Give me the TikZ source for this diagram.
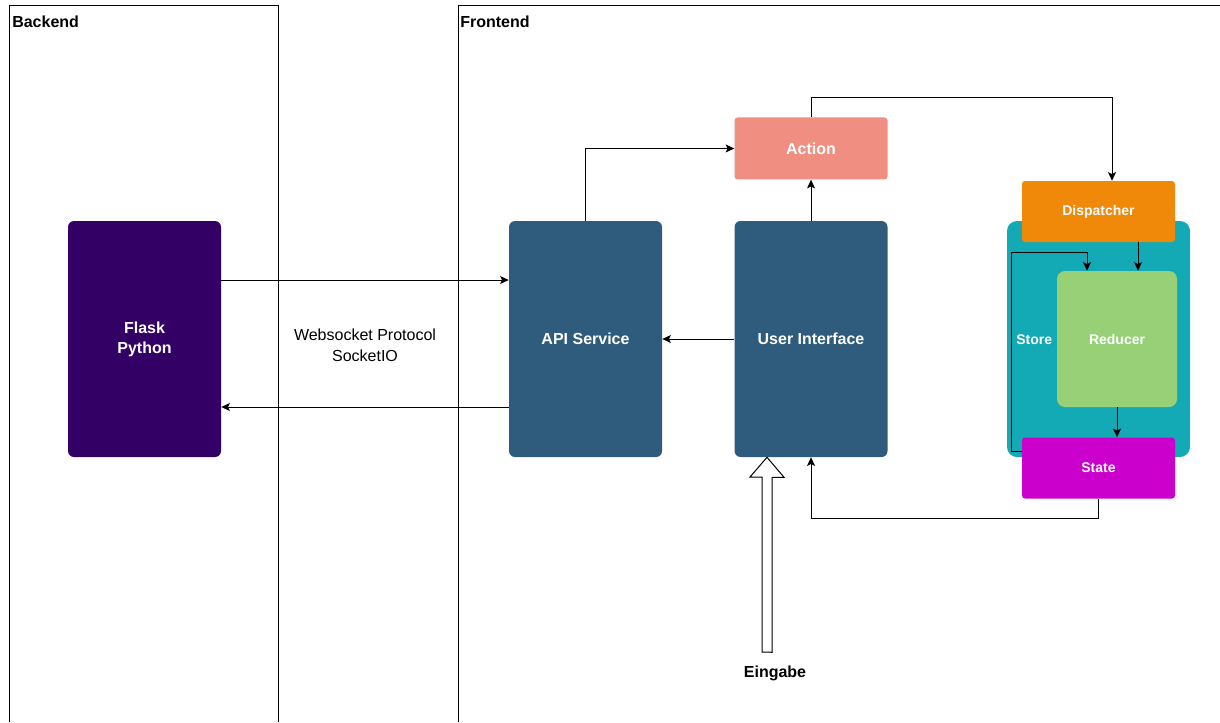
\documentclass[tikz,border=0pt]{standalone}
\usepackage{fontspec}
\setmainfont{Liberation Sans}
\usepackage{xcolor}
\definecolor{colorFlask}{HTML}{330066}
\definecolor{colorService}{HTML}{2F5B7C}
\definecolor{colorAction}{HTML}{F08E81}
\definecolor{colorDispatcher}{HTML}{F0880A}
\definecolor{colorStore}{HTML}{13AAB5}
\definecolor{colorReducer}{HTML}{97D077}
\definecolor{colorState}{HTML}{CC00CC}
\usetikzlibrary{arrows.meta, positioning}
\tikzset{
  block/.style={rounded corners=4.5pt, text=white, align=center, inner sep=0pt,
    font=\bfseries\fontsize{12}{15}\selectfont},
  smallblock/.style={block, rounded corners=2.25pt, font=\bfseries\fontsize{10.5}{12}\selectfont},
  panel/.style={line width=0.75pt},
  flow/.style={->, line width=0.75pt},
}

\begin{document}
\begin{tikzpicture}[x=0.75pt, y=-0.75pt, >={Stealth[length=6.5pt, width=6pt, inset=1.5pt]}]
\useasboundingbox (0,0) rectangle (1220,722);
% panels
\draw[panel] (9,722) |- (278,5) -- (278,722);
\draw[panel] (458,722) |- (1220,5);
\node[anchor=west, inner sep=0pt, font=\bfseries\fontsize{12}{14}\selectfont] (backend) at (12,22) {Backend};
\node[anchor=west, inner sep=0pt, font=\bfseries\fontsize{12}{14}\selectfont] (frontend) at (460,22) {Frontend};
% main blocks
\node[block, fill=colorFlask, minimum width=114.75pt, minimum height=177pt] (flask) at (144.5,339) {Flask\\Python};
\node[block, fill=colorService, minimum width=114.75pt, minimum height=177pt] (api) at (585.5,339) {API Service};
\node[block, fill=colorService, minimum width=114.75pt, minimum height=177pt, right=54pt of api] (ui) {User Interface};
\node[block, rounded corners=2.25pt, fill=colorAction, minimum width=114.75pt, minimum height=46.5pt, above=30.75pt of ui] (action) {Action};
% store
\node[block, rounded corners=7.5pt, fill=colorStore, minimum width=137.25pt, minimum height=177pt] (store) at (1098.5,339) {};
\node[smallblock, rounded corners=6pt, fill=colorReducer, minimum width=90pt, minimum height=102pt] (reducer) at (1117,339) {Reducer};
\node[smallblock, anchor=west, inner sep=0pt] (storelabel) at (1016,340) {Store};
\node[smallblock, fill=colorDispatcher, minimum width=114.75pt, minimum height=45.75pt] (dispatcher) at (1098.5,211.5) {Dispatcher};
\node[smallblock, fill=colorState, minimum width=114.75pt, minimum height=45.75pt] (state) at (1098.5,468) {State};
% websocket
\node[align=center, font=\fontsize{12}{15.75}\selectfont] (socket) at (365,345) {Websocket Protocol\\SocketIO};
\draw[flow] ([yshift=44.25pt]flask.east) -- ([yshift=44.25pt]api.west);
\draw[flow] ([yshift=-51pt]api.west) -- ([yshift=-51pt]flask.east);
% frontend flow
\draw[flow] (ui.west) -- (api.east);
\draw[flow] (ui.north) -- (action.south);
\draw[flow] (api.north) |- (action.west);
\draw[flow] (action.north) -- ++(0,-20) -| ([xshift=10.125pt]dispatcher.north);
\draw[flow] ([xshift=29.625pt]dispatcher.south) -- ([xshift=15.75pt]reducer.north);
\draw[flow] (reducer.south) -- (reducer.south |- state.north);
\draw[flow] ([yshift=12.75pt]state.west) -- ++(-10,0) -- ++(0,-199) -| ([xshift=-22.5pt]reducer.north);
\draw[flow] (state.south) -- ++(0,20) -| (ui.south);
% input
\coordinate (inbase) at (767,652);
\draw[line width=0.75pt, fill=white] ([xshift=-3.75pt]inbase) -- ++(0,-175) -- ++(-12,0) -- (ui.south -| inbase) -- ++(17,20) -- ++(-12,0) -- ++(0,175) -- cycle;
\node[font=\bfseries\fontsize{12}{14}\selectfont] (eingabe) at (775,673) {Eingabe};
\end{tikzpicture}
\end{document}
